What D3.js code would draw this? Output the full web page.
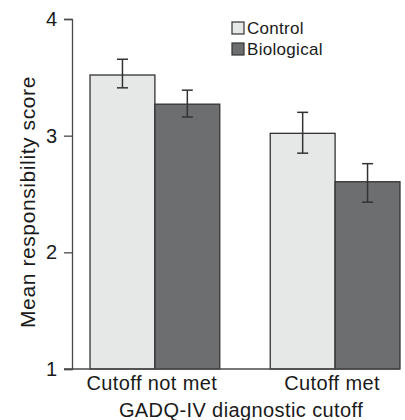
<!DOCTYPE html>
<html>
<head>
<meta charset="utf-8">
<script src="https://cdn.jsdelivr.net/npm/d3@7"></script>
<style>
  html, body { margin: 0; padding: 0; background: #fff; }
  svg { display: block; }
  text { font-family: "Liberation Sans", Arial, Helvetica, sans-serif; fill: #1a1a1a; }
</style>
</head>
<body>
<svg id="chart" width="405" height="420"></svg>
<script>
const categories = ["Cutoff not met", "Cutoff met"];
const seriesNames = ["Control", "Biological"];
const controlMeans = [3.52, 3.02];
const biologicalMeans = [3.27, 2.605];
const controlLow = [3.41, 2.85];
const controlHigh = [3.655, 3.20];
const biologicalLow = [3.16, 2.43];
const biologicalHigh = [3.39, 2.76];
const yTicks = [1, 2, 3, 4];
const xTitle = "GADQ-IV diagnostic cutoff";
const yTitle = "Mean responsibility score";

const colors = { Control: "#e6e7e7", Biological: "#6d6e70" };

const data = categories.map((c, i) => ({
  cat: c,
  values: [
    { s: "Control", v: controlMeans[i], lo: controlLow[i], hi: controlHigh[i] },
    { s: "Biological", v: biologicalMeans[i], lo: biologicalLow[i], hi: biologicalHigh[i] }
  ]
}));

const svg = d3.select("#chart");
const mLeft = 72, mRight = 418, mTop = 19, mBottom = 369;

const x0 = d3.scaleBand().domain(categories).range([mLeft, mRight]).paddingInner(0.28).paddingOuter(0.1);
const x1 = d3.scaleBand().domain(seriesNames).range([0, x0.bandwidth()]).padding(0);
const y = d3.scaleLinear().domain([1, 4]).range([mBottom, mTop]);

const axisColor = "#4a4a4a";

// y axis
const yAxis = svg.append("g").attr("transform", `translate(${mLeft},0)`)
  .call(d3.axisLeft(y).tickValues(yTicks).tickFormat(d3.format("d")).tickSize(8).tickPadding(7));
yAxis.select(".domain").attr("stroke", axisColor).attr("stroke-width", 1.3);
yAxis.selectAll(".tick line").attr("stroke", axisColor).attr("stroke-width", 1.3);
yAxis.selectAll(".tick text").attr("font-size", 20).attr("fill", "#1a1a1a")
  .style("font-family", '"Liberation Sans", Arial, sans-serif');

// bars
const groups = svg.append("g").selectAll("g").data(data).join("g")
  .attr("transform", d => `translate(${x0(d.cat)},0)`);

groups.selectAll("rect").data(d => d.values).join("rect")
  .attr("x", d => x1(d.s))
  .attr("y", d => y(d.v))
  .attr("width", x1.bandwidth())
  .attr("height", d => y(1) - y(d.v))
  .attr("fill", d => colors[d.s])
  .attr("stroke", "#333")
  .attr("stroke-width", 1.3);

// error bars
const eb = groups.selectAll("g.eb").data(d => d.values).join("g").attr("class", "eb");
const capW = 11;
eb.append("line")
  .attr("x1", d => x1(d.s) + x1.bandwidth() / 2)
  .attr("x2", d => x1(d.s) + x1.bandwidth() / 2)
  .attr("y1", d => y(d.lo)).attr("y2", d => y(d.hi))
  .attr("stroke", "#333").attr("stroke-width", 1.5);
eb.append("line")
  .attr("x1", d => x1(d.s) + x1.bandwidth() / 2 - capW / 2)
  .attr("x2", d => x1(d.s) + x1.bandwidth() / 2 + capW / 2)
  .attr("y1", d => y(d.hi)).attr("y2", d => y(d.hi))
  .attr("stroke", "#333").attr("stroke-width", 1.5);
eb.append("line")
  .attr("x1", d => x1(d.s) + x1.bandwidth() / 2 - capW / 2)
  .attr("x2", d => x1(d.s) + x1.bandwidth() / 2 + capW / 2)
  .attr("y1", d => y(d.lo)).attr("y2", d => y(d.lo))
  .attr("stroke", "#333").attr("stroke-width", 1.5);

// x baseline
const lastCat = categories[categories.length - 1];
svg.append("line")
  .attr("x1", mLeft - 8).attr("x2", x0(lastCat) + x0.bandwidth())
  .attr("y1", y(1)).attr("y2", y(1))
  .attr("stroke", axisColor).attr("stroke-width", 1.3);

// category labels
svg.append("g").selectAll("text").data(categories).join("text")
  .attr("x", d => x0(d) + x0.bandwidth() / 2 - 3)
  .attr("y", 390)
  .attr("text-anchor", "middle")
  .attr("font-size", 20)
  .attr("letter-spacing", 0.4)
  .text(d => d);

// x title
svg.append("text")
  .attr("x", (x0(categories[0]) + x0(lastCat) + x0.bandwidth()) / 2 - 4)
  .attr("y", 417)
  .attr("text-anchor", "middle")
  .attr("font-size", 20)
  .attr("letter-spacing", 0.4)
  .text(xTitle);

// y title
svg.append("text")
  .attr("transform", `translate(35,${(mTop + mBottom) / 2 + 8}) rotate(-90)`)
  .attr("text-anchor", "middle")
  .attr("font-size", 21)
  .attr("letter-spacing", 0.6)
  .text(yTitle);

// legend
const legend = svg.append("g").attr("transform", "translate(232,22)");
const li = legend.selectAll("g").data(seriesNames).join("g")
  .attr("transform", (d, i) => `translate(0,${i * 21})`);
li.append("rect").attr("width", 12).attr("height", 12)
  .attr("fill", d => colors[d]).attr("stroke", "#333").attr("stroke-width", 1.2);
li.append("text").attr("x", 15).attr("y", 11.8)
  .attr("font-size", 17).attr("letter-spacing", 0.3)
  .text(d => d);
</script>
</body>
</html>
